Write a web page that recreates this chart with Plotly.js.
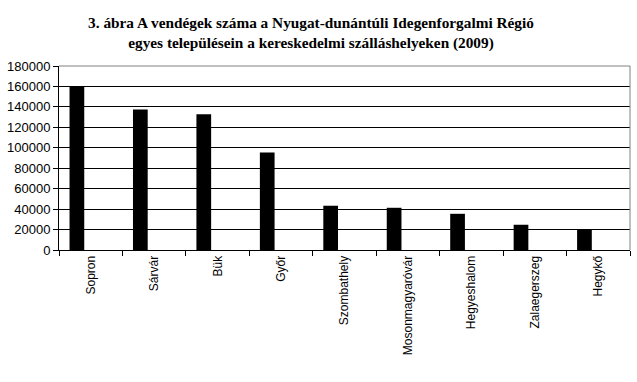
<!DOCTYPE html>
<html>
<head>
<meta charset="utf-8">
<script src="https://cdn.plot.ly/plotly-3.0.1.min.js"></script>
<style>html,body{margin:0;padding:0;background:#fff}#chart{width:637px;height:382px}</style>
</head>
<body>
<div id="chart"></div>
<script>
const cities = ["Sopron","Sárvár","Bük","Győr","Szombathely","Mosonmagyaróvár","Hegyeshalom","Zalaegerszeg","Hegykő"];
const guests = [160000,137400,132800,95400,43300,41300,35400,24700,20500];
const yTicks = [0,20000,40000,60000,80000,100000,120000,140000,160000,180000];

const trace = {
  type: 'bar',
  x: cities,
  y: guests,
  marker: {color: '#000000', line: {width: 0}},
  width: 0.232,
  offset: -0.334,
  hoverinfo: 'x+y'
};

const layout = {
  width: 637, height: 382,
  margin: {l: 59, r: 7, t: 66, b: 132},
  paper_bgcolor: '#ffffff', plot_bgcolor: '#ffffff',
  showlegend: false,
  title: {
    text: '3. ábra A vendégek száma a Nyugat-dunántúli Idegenforgalmi Régió<br>egyes településein a kereskedelmi szálláshelyeken (2009)',
    font: {family: '"Liberation Serif", "Times New Roman", serif', size: 15.3, color: '#000', weight: 'bold'},
    x: 311/637, xanchor: 'center', xref: 'container',
    y: 1 - 28/382, yanchor: 'top', yref: 'container'
  },
  xaxis: {
    type: 'category',
    range: [-0.5, 8.5],
    tickson: 'boundaries',
    ticks: 'outside', ticklen: 5, tickcolor: '#000', tickwidth: 1,
    tickangle: -90,
    showline: true, linecolor: '#000', linewidth: 1,
    showgrid: false, zeroline: false,
    tickfont: {family: '"Liberation Sans", Arial, sans-serif', size: 12, color: '#000'},
    fixedrange: true
  },
  yaxis: {
    range: [0, 180000],
    tickvals: yTicks,
    ticktext: yTicks.map(String),
    ticks: 'outside', ticklen: 5, tickcolor: '#000', tickwidth: 1,
    showline: true, linecolor: '#000', linewidth: 1,
    showgrid: true, gridcolor: '#000', gridwidth: 1,
    zeroline: false,
    tickfont: {family: '"Liberation Sans", Arial, sans-serif', size: 13, color: '#000'},
    fixedrange: true
  },
  shapes: [
    {type: 'line', xref: 'paper', yref: 'paper', x0: 0, x1: 1, y0: 1, y1: 1, line: {color: '#808080', width: 1}, layer: 'above'},
    {type: 'line', xref: 'paper', yref: 'paper', x0: 1, x1: 1, y0: 0, y1: 1, line: {color: '#808080', width: 1}, layer: 'above'}
  ]
};

Plotly.newPlot('chart', [trace], layout, {displayModeBar: false, staticPlot: true});
</script>
</body>
</html>
